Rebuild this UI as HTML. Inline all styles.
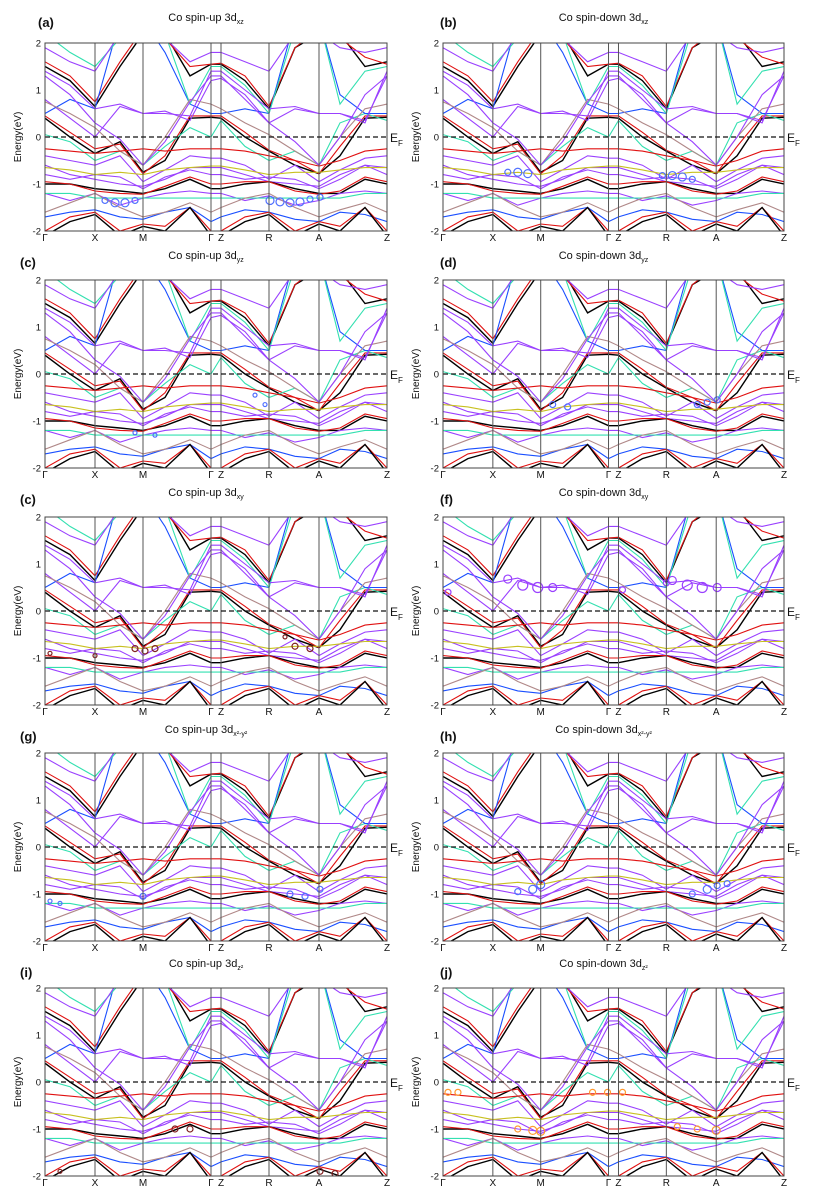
<!DOCTYPE html>
<html><head><meta charset="utf-8"><style>
html,body{margin:0;padding:0;background:#fff}
svg{display:block}
text{font-family:"Liberation Sans",sans-serif}
</style></head><body>
<svg id="fig" width="817" height="1199" viewBox="0 0 817 1199" xmlns="http://www.w3.org/2000/svg"></svg>
<script>
// k-path sample positions (path units) and high-symmetry labels
const kSamples=[0,0.5,1,1.5,1.96,2.4,2.9,3.32,3.52,4.0,4.48,5.0,5.48,5.9,6.4,6.84];
const kTicks=[0,1,1.96,3.32,3.52,4.48,5.48,6.84];
const kLabels=["Γ","X","M","Γ","Z","R","A","Z"];
const yTicks=[2,1,0,-1,-2];
const bandColors=["#000","#e01010","#000","#e01010","#9a40ff","#33e0b0","#1a4fff","#33e0b0","#b08888",
"#e01010","#9a40ff","#9a40ff","#000","#e01010","#9a40ff","#33e0b0","#1a4fff","#e01010","#000","#b08888","#9a40ff","#9a40ff","#9a40ff","#9a40ff","#c8c020"];
const bands=[
[1.5,1.2,0.65,1.5,2.2,2.2,1.3,1.55,1.55,1.2,0.6,1.9,2.2,2.2,1.5,1.6],
[1.6,1.3,0.75,1.6,2.3,2.1,1.5,1.55,1.57,1.3,0.65,1.9,2.3,2.1,1.7,1.55],
[0.4,0.0,-0.35,-0.1,-0.75,-0.5,0.4,0.42,0.4,0.0,-0.3,-0.6,-0.78,-0.4,0.4,0.42],
[0.45,0.1,-0.25,-0.15,-0.78,-0.4,0.45,0.45,0.45,0.1,-0.28,-0.5,-0.78,-0.2,0.45,0.45],
[0.8,0.4,0.0,0.65,0.5,0.55,0.35,1.2,1.25,0.9,0.3,0.6,0.5,0.5,0.35,1.3],
[0.05,-0.1,-0.5,-0.3,-0.6,-0.2,0.2,0.0,0.35,-0.2,-0.5,-0.3,-0.6,0.3,0.5,0.35],
[0.5,0.8,0.6,2.5,2.5,1.8,0.7,0.5,0.5,0.6,0.5,2.5,2.5,0.9,0.5,0.5],
[2.2,1.8,1.5,2.1,2.5,2.2,0.7,1.5,1.5,1.1,0.5,2.3,2.5,0.7,1.4,1.5],
[0.75,0.5,0.2,-0.3,-0.6,0.0,0.8,0.7,0.6,0.3,0.05,-0.3,-0.6,0.0,0.6,0.7],
[-0.25,-0.3,-0.35,-0.3,-0.25,-0.3,-0.25,-0.25,-0.25,-0.3,-0.4,-0.5,-0.62,-0.5,-0.3,-0.25],
[-0.4,-0.5,-0.6,-0.4,-0.95,-0.7,-0.4,-0.45,-0.45,-0.6,-0.9,-0.6,-0.95,-0.7,-0.45,-0.4],
[-0.6,-0.8,-0.9,-1.0,-1.05,-0.9,-0.65,-0.65,-0.65,-0.8,-0.95,-1.0,-1.05,-0.8,-0.6,-0.65],
[-1.0,-1.0,-1.1,-1.15,-1.2,-1.1,-0.9,-1.1,-1.1,-1.0,-0.95,-1.1,-1.2,-1.2,-0.9,-1.0],
[-0.95,-1.0,-1.15,-1.2,-1.22,-1.05,-0.85,-1.0,-1.0,-0.95,-0.95,-1.15,-1.22,-1.15,-0.85,-0.95],
[-1.2,-1.35,-1.2,-1.45,-1.3,-1.2,-1.15,-1.2,-1.2,-1.35,-1.25,-1.45,-1.35,-1.2,-1.15,-1.2],
[-1.2,-1.2,-1.3,-1.3,-1.3,-1.3,-1.3,-1.3,-1.3,-1.3,-1.3,-1.3,-1.3,-1.3,-1.2,-1.2],
[-1.7,-1.6,-1.55,-1.7,-1.75,-1.6,-1.5,-1.8,-1.7,-1.55,-1.6,-1.75,-1.8,-1.6,-1.65,-1.8],
[-2.0,-1.7,-1.6,-2.0,-1.85,-1.9,-1.5,-2.0,-2.0,-1.7,-1.6,-2.0,-1.8,-1.9,-1.5,-2.0],
[-2.1,-1.8,-1.65,-2.1,-1.9,-2.0,-1.5,-2.1,-2.1,-1.8,-1.65,-2.1,-1.85,-2.0,-1.5,-2.1],
[-1.6,-1.4,-1.2,-1.5,-1.7,-1.6,-1.4,-1.6,-1.5,-1.3,-1.2,-1.5,-1.7,-1.55,-1.4,-1.6],
[1.4,1.1,0.6,0.7,0.5,0.5,0.45,1.4,1.4,1.0,0.6,0.65,0.5,0.5,0.3,1.4],
[1.3,0.9,0.3,-0.05,-0.6,-0.1,0.75,1.3,1.3,0.8,0.3,-0.1,-0.6,0.0,0.9,1.3],
[1.9,1.6,1.4,2.2,2.2,2.1,1.6,1.8,1.8,1.6,1.4,2.2,2.2,1.9,1.8,1.9],
[-0.8,-0.9,-0.8,-0.85,-1.1,-0.85,-0.7,-0.8,-0.8,-0.9,-0.85,-0.9,-1.1,-0.9,-0.6,-0.8],
[-0.65,-0.7,-0.8,-0.75,-0.8,-0.7,-0.65,-0.62,-0.62,-0.7,-0.8,-0.75,-0.75,-0.7,-0.65,-0.65]
];
// panel titles
const panelLetters=["(a)","(b)","(c)","(d)","(c)","(f)","(g)","(h)","(i)","(j)"];
const titleMain=["Co spin-up 3d","Co spin-down 3d","Co spin-up 3d","Co spin-down 3d","Co spin-up 3d","Co spin-down 3d","Co spin-up 3d","Co spin-down 3d","Co spin-up 3d","Co spin-down 3d"];
const titleSub=["xz","xz","yz","yz","xy","xy","x²-y²","x²-y²","z²","z²"];
// fat-band weights per panel: k position, energy, radius
const fatK=[[1.2,1.4,1.6,1.8,4.5,4.7,4.9,5.1,5.3,5.5],[1.3,1.5,1.7,4.4,4.6,4.8,5.0],[4.2,4.4,1.8,2.2],[2.2,2.5,5.1,5.3,5.5],[1.8,2.0,2.2,4.8,5.0,5.3,0.1,1.0],[1.3,1.6,1.9,2.2,4.6,4.9,5.2,5.5,0.1,3.6,4.48],[0.1,0.3,1.96,4.9,5.2,5.5],[1.5,1.8,1.96,5.0,5.3,5.5,5.7],[2.6,2.9,0.3,5.5,5.8],[0.1,0.3,3.0,3.3,3.6,1.5,1.8,1.96,4.7,5.1,5.48]];
const fatE=[[-1.35,-1.4,-1.4,-1.35,-1.35,-1.38,-1.4,-1.38,-1.32,-1.28],[-0.75,-0.75,-0.78,-0.82,-0.82,-0.85,-0.9],[-0.45,-0.65,-1.25,-1.3],[-0.65,-0.7,-0.65,-0.6,-0.55],[-0.8,-0.85,-0.8,-0.55,-0.75,-0.8,-0.9,-0.95],[0.68,0.55,0.5,0.5,0.65,0.55,0.5,0.5,0.4,0.45,0.6],[-1.15,-1.2,-1.05,-1.0,-1.05,-0.9],[-0.95,-0.9,-0.8,-1.0,-0.9,-0.82,-0.78],[-1.0,-1.0,-1.9,-1.9,-1.95],[-0.22,-0.22,-0.22,-0.22,-0.22,-1.0,-1.03,-1.05,-0.95,-1.0,-1.03]];
const fatR=[[3,4,4,3,4,4,4,4,3,3],[3,4,4,3,4,4,3],[2,2,2,2],[3,3,3,3,3],[3,3,3,2,3,3,2,2],[4,5,5,4,4,5,5,4,3,3,3],[2,2,3,3,3,3],[3,4,4,3,4,3,3],[3,3,2,3,3],[3,3,3,3,3,3,4,4,3,3,4]];
const fatColors=["#5070ff","#5070ff","#5070ff","#5070ff","#802020","#9a40ff","#5070ff","#5070ff","#802020","#ff9a30"];

const NS="http://www.w3.org/2000/svg";
const svg=document.getElementById("fig");
function el(tag,attrs,parent){const e=document.createElementNS(NS,tag);for(const k in attrs)e.setAttribute(k,attrs[k]);(parent||svg).appendChild(e);return e;}
const colX=[45,443], colW=[342,341];
const rowTop=[43,280,517,753,988], H=188;
const titleY=[21,259,496,733,967];
const labelY=[27,267,504,741,977];
for(let p=0;p<10;p++){
  const c=p%2, r=Math.floor(p/2);
  const x0=colX[c], w=colW[c], y0=rowTop[r];
  const xs=k=>x0+k/6.84*w;
  const ys=e=>y0+(2-e)/4*H;
  const g=el("g",{});
  
  
  const cp=el("clipPath",{id:"cp"+p},g);
  el("rect",{x:x0,y:y0,width:w,height:H},cp);
  const bg=el("g",{"clip-path":"url(#cp"+p+")"},g);
  
  
  bands.forEach((b,i)=>{
    const d=b.map((e,j)=>(j?"L":"M")+xs(kSamples[j]).toFixed(1)+" "+ys(e).toFixed(1)).join(" ");
    const pa=el("path",{d:d,fill:"none",stroke:bandColors[i],"stroke-width":(bandColors[i]=="#000"?1.4:1.1)},bg);
    
    
  });
  fatK[p].forEach((k,i)=>{
    const ci=el("circle",{cx:xs(k),cy:ys(fatE[p][i]),r:fatR[p][i],fill:"none",stroke:fatColors[p],"stroke-width":1.2},bg);
    
    
  });
  // symmetry lines
  kTicks.forEach((k,i)=>{
    if(i>0&&i<kTicks.length-1){const l=el("line",{x1:xs(k),x2:xs(k),y1:y0,y2:y0+H,stroke:"#555","stroke-width":1},g);
    }
    const t=el("text",{x:xs(k),y:y0+H+10,"font-size":10,"text-anchor":"middle",fill:"#111"},g);
    t.textContent=kLabels[i];
    
  });
  const ef=el("line",{x1:x0,x2:x0+w,y1:ys(0),y2:ys(0),stroke:"#111","stroke-width":1.3,"stroke-dasharray":"5,3"},g);
  
  const fr=el("rect",{x:x0,y:y0,width:w,height:H,fill:"none",stroke:"#444","stroke-width":1},g);
  
  yTicks.forEach(v=>{
    const t=el("text",{x:x0-4,y:ys(v)+3.5,"font-size":9.5,"text-anchor":"end",fill:"#111"},g);
    t.textContent=String(v);
    
  });
  const yt=el("text",{x:0,y:0,"font-size":10,"text-anchor":"middle",fill:"#111",transform:`translate(${x0-24},${y0+H/2}) rotate(-90)`},g);
  yt.textContent="Energy(eV)";
  
  const efl=el("text",{x:x0+w+3,y:ys(0)+5,"font-size":12,fill:"#111"},g);
  efl.innerHTML='E<tspan font-size="8" dy="4">F</tspan>';
  
  const tt=el("text",{x:x0+w/2-10,y:titleY[r],"font-size":11,"text-anchor":"middle",fill:"#111"},g);
  tt.innerHTML=titleMain[p]+'<tspan font-size="7" dy="3">'+titleSub[p]+'</tspan>';
  
  const lx=(r==0)?(c==0?38:440):(c==0?20:440);
  const lb=el("text",{x:lx,y:labelY[r],"font-size":13,"font-weight":"bold",fill:"#111","font-family":"Liberation Serif, serif"},g);
  lb.textContent=panelLetters[p];
  
}
</script>
</body></html>
